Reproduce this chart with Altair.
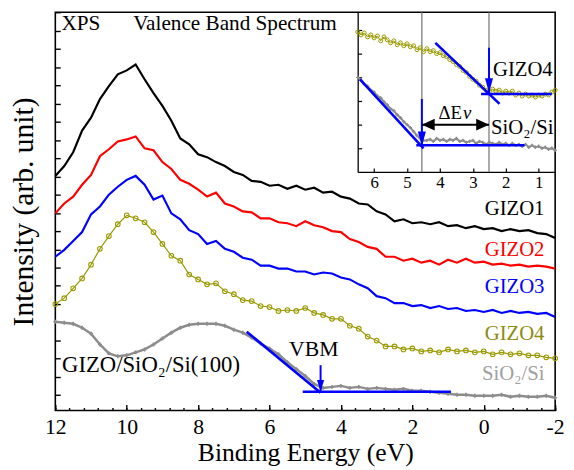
import altair as alt
import pandas as pd

# ---------------- data ----------------
energy = [12.0, 11.75, 11.5, 11.25, 11.0, 10.75, 10.5, 10.25, 10.0, 9.75, 9.5, 9.25, 9.0,
          8.75, 8.5, 8.25, 8.0, 7.75, 7.5, 7.25, 7.0, 6.75, 6.5, 6.25, 6.0, 5.75, 5.5, 5.25,
          5.0, 4.75, 4.5, 4.25, 4.0, 3.75, 3.5, 3.25, 3.0, 2.75, 2.5, 2.25, 2.0, 1.75, 1.5,
          1.25, 1.0, 0.75, 0.5, 0.25, 0.0, -0.25, -0.5, -0.75, -1.0, -1.25, -1.5, -1.75, -2.0]
gizo1 = [238, 248, 262, 284, 297, 316, 329, 341, 345, 351, 336, 322, 309, 294, 276, 270, 260,
         257, 252, 248, 242, 239, 233, 232, 228, 229, 225, 228, 224, 226, 221, 222, 217, 215,
         210, 209, 202, 199, 192, 194, 190, 191, 189, 191, 187, 188, 185, 187, 184, 185, 182,
         184, 182, 183, 180, 179, 175]
gizo2 = [200, 210, 217, 229, 239, 258, 265, 273, 275, 278, 266, 264, 252, 245, 234, 230, 224,
         217, 221, 210, 207, 202, 201, 195, 195, 191, 190, 187, 192, 188, 186, 182, 181, 174,
         171, 166, 164, 156, 156, 152, 154, 150, 152, 148, 153, 150, 154, 150, 151, 148, 149,
         147, 148, 146, 147, 146, 144]
gizo3 = [156, 163, 172, 181, 199, 207, 219, 227, 234, 238, 229, 214, 218, 200, 194, 183, 179,
         169, 172, 164, 161, 155, 153, 147, 147, 144, 144, 141, 141, 138, 140, 139, 135, 133,
         128, 124, 116, 114, 109, 109, 106, 107, 104, 106, 103, 104, 101, 102, 100, 102, 99,
         101, 99, 100, 98, 99, 95]
gizo4 = [108, 114, 124, 134, 148, 164, 177, 189, 198, 195, 191, 181, 169, 157, 152, 138, 133,
         128, 129, 121, 118, 112, 111, 106, 105, 101, 102, 101, 104, 99, 97, 93, 93, 86, 83,
         75, 71, 65, 65, 62, 63, 60, 61, 59, 62, 60, 61, 59, 60, 57, 59, 57, 58, 56, 56, 54, 53]
sio2 = [90, 89, 88, 84, 78, 67, 58, 55, 56, 59, 62, 67, 73, 79, 84, 87, 88, 88, 88, 86, 82, 79,
        74, 68, 63, 57, 49, 42, 35, 27, 23, 24, 25, 23, 24, 22, 23, 22, 21, 22, 20, 20, 19, 18,
        17, 16, 16, 15, 15, 15, 16, 14, 15, 14, 14, 15, 13]

inset_energy = [6.5, 6.4, 6.3, 6.2, 6.1, 6.0, 5.9, 5.8, 5.7, 5.6, 5.5, 5.4, 5.3, 5.2, 5.1, 5.0,
                4.9, 4.8, 4.7, 4.6, 4.5, 4.4, 4.3, 4.2, 4.1, 4.0, 3.9, 3.8, 3.7, 3.6, 3.5, 3.4,
                3.3, 3.2, 3.1, 3.0, 2.9, 2.8, 2.7, 2.6, 2.5, 2.4, 2.3, 2.2, 2.1, 2.0, 1.9, 1.8,
                1.7, 1.6, 1.5, 1.4, 1.3, 1.2, 1.1, 1.0, 0.9, 0.8, 0.7, 0.6, 0.5]
inset_gizo4 = [142, 139, 141, 137, 139, 136, 138, 133, 137, 134, 131, 133, 129, 131, 128, 130,
               127, 128, 124, 126, 122, 125, 122, 123, 120, 121, 118, 117, 114, 112, 109, 107,
               103, 101, 97, 94, 92, 88, 86, 83, 82, 84, 82, 83, 80, 82, 80, 82, 78, 80, 77,
               79, 77, 78, 76, 78, 77, 79, 78, 81, 83]
inset_sio2 = [96, 93, 89, 87, 83, 81, 77, 75, 71, 68, 64, 62, 58, 55, 51, 48, 45, 41, 37, 34,
              32, 32, 33, 31, 34, 32, 33, 31, 33, 32, 34, 31, 32, 30, 31, 32, 29, 31, 30, 28,
              30, 29, 28, 30, 28, 29, 27, 29, 27, 28, 26, 28, 25, 27, 25, 26, 24, 25, 23, 24, 22]

# linear extrapolations (VBM construction)
vbm_fit_E = [6.64, 4.57]
vbm_fit_I = [80, 18]
vbm_base_E = [5.07, 0.92]
vbm_base_I = [19, 19]
vbm_E = 4.57
vbm_arrow_I = [46, 19]

in_g4_fit_E = [4.14, 2.19]
in_g4_fit_I = [131, 69]
in_g4_base_E = [2.75, 0.60]
in_g4_base_I = [79, 79]
in_g4_vbm = 2.51
in_g4_arrow_I = [126, 80]
in_si_fit_E = [6.43, 4.50]
in_si_fit_I = [94, 24]
in_si_base_E = [4.72, 1.43]
in_si_base_I = [27, 27]
in_si_vbm = 4.55
in_si_arrow_I = [74, 26]
dEv_I = 48

major_x = [12, 10, 8, 6, 4, 2, 0, -2]
minor_x = [12 - 0.4 * k for k in range(36)]
main_y_ticks = [15.7 + 18.47 * k for k in range(22)]
inset_x_ticks = [1, 2, 3, 4, 5, 6]
inset_y_ticks = [24, 48, 72, 96, 120, 144]

# ---------------- styling ----------------
FONT = "Liberation Serif"
OLIVE = "#999900"
OLIVE_TXT = "#8c8c10"
GREY = "#8c8c8c"
GREY_TXT = "#a0a0a0"
BLUE = "#0000ff"
W, H = 507, 404
INSET_LEFT = 306.7
INSET_BOTTOM = 162

MX = alt.Scale(domain=[-2, 12], reverse=True, nice=False, zero=False)
MY = alt.Scale(domain=[0, 404], nice=False, zero=False)
IX = alt.Scale(domain=[0.5, 6.5], reverse=True, nice=False, zero=False, range=[INSET_LEFT, W])
IY = alt.Scale(domain=[0, INSET_BOTTOM], nice=False, zero=False, range=[INSET_BOTTOM, 0])

DOWN = "M-0.3,-1L0.3,-1L0,0Z"
DOWN_I = "M-0.27,-1L0.27,-1L0,0Z"
LEFT = "M0,0L1,-0.45L1,0.45Z"
RIGHT = "M0,0L-1,-0.45L-1,0.45Z"


def xy(xs, ys, xf="E", yf="I", xaxis=None, yaxis=None):
    return dict(x=alt.X(f"{xf}:Q", scale=xs, axis=xaxis),
                y=alt.Y(f"{yf}:Q", scale=ys, axis=yaxis))


df = pd.DataFrame({"E": energy, "g1": gizo1, "g2": gizo2, "g3": gizo3, "g4": gizo4, "si": sio2})
dfi = pd.DataFrame({"E": inset_energy, "g4": inset_gizo4, "si": inset_sio2})

layers = []

# axes holders ---------------------------------------------------------
ax_x_main = alt.Axis(orient="bottom", values=major_x, ticks=False, domain=False, grid=False,
                     labelFont=FONT, labelFontSize=22, labelColor="black", labelPadding=6,
                     labelFlush=False, labelOverlap=False, labelExpr="'' + datum.value",
                     title="Binding Energy (eV)", titleFont=FONT, titleFontSize=26,
                     titleFontWeight="normal", titleColor="black", titlePadding=3)
ax_y_main = alt.Axis(orient="left", labels=False, ticks=False, domain=False, grid=False,
                     title="Intensity (arb. unit)", titleFont=FONT, titleFontSize=30,
                     titleFontWeight="normal", titleColor="black", titlePadding=17)
layers.append(alt.Chart(df).mark_point(opacity=0).encode(
    **xy(MX, MY, yf="g1", xaxis=ax_x_main, yaxis=ax_y_main)))

ax_x_minor = alt.Axis(orient="top", offset=-H, values=minor_x, tickSize=3, tickWidth=1.4,
                      tickColor="black", labels=False, domain=False, grid=False, title=None)
ax_y_ticks = alt.Axis(orient="right", offset=-W, values=main_y_ticks, tickSize=5, tickWidth=1.4,
                      tickColor="black", labels=False, domain=False, grid=False, title=None)
layers.append(alt.Chart(df).mark_point(opacity=0).encode(
    **xy(MX, MY, yf="g1", xaxis=ax_x_minor, yaxis=ax_y_ticks)))
ax_x_major = alt.Axis(orient="top", offset=-H, values=major_x, tickSize=6, tickWidth=1.4,
                      tickColor="black", labels=False, domain=False, grid=False, title=None)
layers.append(alt.Chart(df).mark_point(opacity=0).encode(
    **xy(MX, MY, yf="g1", xaxis=ax_x_major)))

ax_ix = alt.Axis(orient="bottom", offset=-(H - INSET_BOTTOM), values=inset_x_ticks, ticks=False,
                 domain=True, domainColor="black", domainWidth=1.3, labelFont=FONT,
                 labelFontSize=17, labelColor="black", labelPadding=3, labelFlush=False,
                 labelOverlap=False, grid=False, title=None, format="d")
ax_iy = alt.Axis(orient="right", offset=-(W - INSET_LEFT), values=inset_y_ticks, tickSize=4,
                 tickWidth=1.2, tickColor="black", labels=False, domain=True, domainColor="black",
                 domainWidth=1.3, grid=False, title=None)
layers.append(alt.Chart(dfi).mark_point(opacity=0).encode(
    **xy(IX, IY, yf="g4", xaxis=ax_ix, yaxis=ax_iy)))
ax_ix_t = alt.Axis(orient="top", offset=-INSET_BOTTOM, values=inset_x_ticks, tickSize=4,
                   tickWidth=1.2, tickColor="black", labels=False, domain=False, grid=False,
                   title=None)
layers.append(alt.Chart(dfi).mark_point(opacity=0).encode(
    **xy(IX, IY, yf="g4", xaxis=ax_ix_t)))

# main spectra ---------------------------------------------------------
layers.append(alt.Chart(df).mark_line(color=GREY, strokeWidth=2.5).encode(**xy(MX, MY, yf="si")))
layers.append(alt.Chart(df).mark_point(shape="cross", filled=True, size=16, color=GREY,
                                       opacity=1).encode(**xy(MX, MY, yf="si")))
layers.append(alt.Chart(df).mark_line(color=OLIVE, strokeWidth=1.2).encode(**xy(MX, MY, yf="g4")))
layers.append(alt.Chart(df).mark_point(shape="circle", filled=False, size=22, strokeWidth=1.1,
                                       color=OLIVE, opacity=1).encode(**xy(MX, MY, yf="g4")))
layers.append(alt.Chart(df).mark_line(color="blue", strokeWidth=2.2).encode(**xy(MX, MY, yf="g3")))
layers.append(alt.Chart(df).mark_line(color="red", strokeWidth=2.2).encode(**xy(MX, MY, yf="g2")))
layers.append(alt.Chart(df).mark_line(color="black", strokeWidth=2.2).encode(**xy(MX, MY, yf="g1")))

# main VBM construction
layers.append(alt.Chart(pd.DataFrame({"E": vbm_fit_E, "I": vbm_fit_I})).mark_line(
    color=BLUE, strokeWidth=2.6).encode(**xy(MX, MY)))
layers.append(alt.Chart(pd.DataFrame({"E": vbm_base_E, "I": vbm_base_I})).mark_line(
    color=BLUE, strokeWidth=2.6).encode(**xy(MX, MY)))
layers.append(alt.Chart(pd.DataFrame({"E": [vbm_E], "I": [vbm_arrow_I[0]], "I2": [vbm_arrow_I[1]]}))
              .mark_rule(color=BLUE, strokeWidth=2).encode(
                  x=alt.X("E:Q", scale=MX, axis=None), y=alt.Y("I:Q", scale=MY, axis=None),
                  y2="I2:Q"))
layers.append(alt.Chart(pd.DataFrame({"E": [vbm_E], "I": [vbm_arrow_I[1]]})).mark_point(
    shape=DOWN, filled=True, size=576, color=BLUE, opacity=1).encode(**xy(MX, MY)))

# inset ----------------------------------------------------------------
layers.append(alt.Chart(pd.DataFrame({"E": [in_si_vbm, in_g4_vbm], "I": [0, 0],
                                      "I2": [INSET_BOTTOM, INSET_BOTTOM]}))
              .mark_rule(color="#707070", strokeWidth=1.2).encode(
                  x=alt.X("E:Q", scale=IX, axis=None), y=alt.Y("I:Q", scale=IY, axis=None),
                  y2="I2:Q"))
layers.append(alt.Chart(dfi).mark_line(color=GREY, strokeWidth=2).encode(**xy(IX, IY, yf="si")))
layers.append(alt.Chart(dfi).mark_point(shape="cross", filled=True, size=12, color=GREY,
                                        opacity=1).encode(**xy(IX, IY, yf="si")))
layers.append(alt.Chart(dfi).mark_line(color=OLIVE, strokeWidth=1).encode(**xy(IX, IY, yf="g4")))
layers.append(alt.Chart(dfi).mark_point(shape="circle", filled=False, size=16, strokeWidth=1,
                                        color=OLIVE, opacity=1).encode(**xy(IX, IY, yf="g4")))
for fe, fi in [(in_g4_fit_E, in_g4_fit_I), (in_g4_base_E, in_g4_base_I),
               (in_si_fit_E, in_si_fit_I), (in_si_base_E, in_si_base_I)]:
    layers.append(alt.Chart(pd.DataFrame({"E": fe, "I": fi})).mark_line(
        color=BLUE, strokeWidth=2.6).encode(**xy(IX, IY)))
arr = pd.DataFrame({"E": [in_g4_vbm, in_si_vbm], "I": [in_g4_arrow_I[0], in_si_arrow_I[0]],
                    "I2": [in_g4_arrow_I[1], in_si_arrow_I[1]]})
layers.append(alt.Chart(arr).mark_rule(color=BLUE, strokeWidth=2).encode(
    x=alt.X("E:Q", scale=IX, axis=None), y=alt.Y("I:Q", scale=IY, axis=None), y2="I2:Q"))
layers.append(alt.Chart(arr).mark_point(shape=DOWN_I, filled=True, size=900, color=BLUE,
                                        opacity=1).encode(
    x=alt.X("E:Q", scale=IX, axis=None), y=alt.Y("I2:Q", scale=IY, axis=None)))
# Delta Ev double arrow
dev = pd.DataFrame({"E": [in_si_vbm], "E2": [in_g4_vbm], "I": [dEv_I]})
layers.append(alt.Chart(dev).mark_rule(color="black", strokeWidth=2).encode(
    x=alt.X("E:Q", scale=IX, axis=None), x2="E2:Q", y=alt.Y("I:Q", scale=IY, axis=None)))
layers.append(alt.Chart(dev).mark_point(shape=LEFT, filled=True, size=676, color="black",
                                        opacity=1).encode(**xy(IX, IY)))
layers.append(alt.Chart(dev).mark_point(shape=RIGHT, filled=True, size=676, color="black",
                                        opacity=1).encode(**xy(IX, IY, xf="E2")))

# texts ----------------------------------------------------------------
def text(df_t, xs, ys, size, align="left", color="black", style="normal"):
    return alt.Chart(df_t).mark_text(font=FONT, fontSize=size, align=align, baseline="middle",
                                     color=color, fontStyle=style).encode(
        text="t:N", **xy(xs, ys))

layers.append(text(pd.DataFrame({"t": ["XPS", "Valence Band Spectrum"], "E": [11.83, 9.82],
                                 "I": [392, 392]}), MX, MY, 21.5))
layers.append(text(pd.DataFrame({"t": ["GIZO/SiO\u2082/Si(100)"], "E": [11.81], "I": [46]}),
                   MX, MY, 23))
layers.append(text(pd.DataFrame({"t": ["VBM"], "E": [4.76], "I": [62]}), MX, MY, 22, "center"))
series_names = ["GIZO1", "GIZO2", "GIZO3", "GIZO4", "SiO\u2082/Si"]
series_label_I = [204, 163, 125, 78, 37]
series_colors = ["black", "red", "blue", OLIVE_TXT, GREY_TXT]
for nm, li, col in zip(series_names, series_label_I, series_colors):
    layers.append(text(pd.DataFrame({"t": [nm], "E": [-1.70], "I": [li]}), MX, MY, 21,
                       "right", col))
layers.append(text(pd.DataFrame({"t": ["GIZO4"], "E": [2.39], "I": [103]}), IX, IY, 21))
layers.append(text(pd.DataFrame({"t": ["SiO\u2082/Si"], "E": [2.45], "I": [45]}), IX, IY, 21))
layers.append(text(pd.DataFrame({"t": ["\u0394E"], "E": [3.33], "I": [60]}), IX, IY, 19, "right"))
layers.append(text(pd.DataFrame({"t": ["v"], "E": [3.30], "I": [60]}), IX, IY, 19, "left",
                   style="italic"))

chart = (alt.layer(*layers)
         .resolve_scale(x="independent", y="independent")
         .properties(width=W, height=H, autosize=alt.AutoSizeParams(type="none"),
                     padding={"left": 48, "top": 1, "right": 11, "bottom": 57})
         .configure_view(stroke="black", strokeWidth=1.6)
         .configure_axis(labelFont=FONT, titleFont=FONT, titleFontWeight="normal")
         .configure_text(font=FONT))

chart.save("out.html", embed_options={"renderer": "svg", "actions": False})
